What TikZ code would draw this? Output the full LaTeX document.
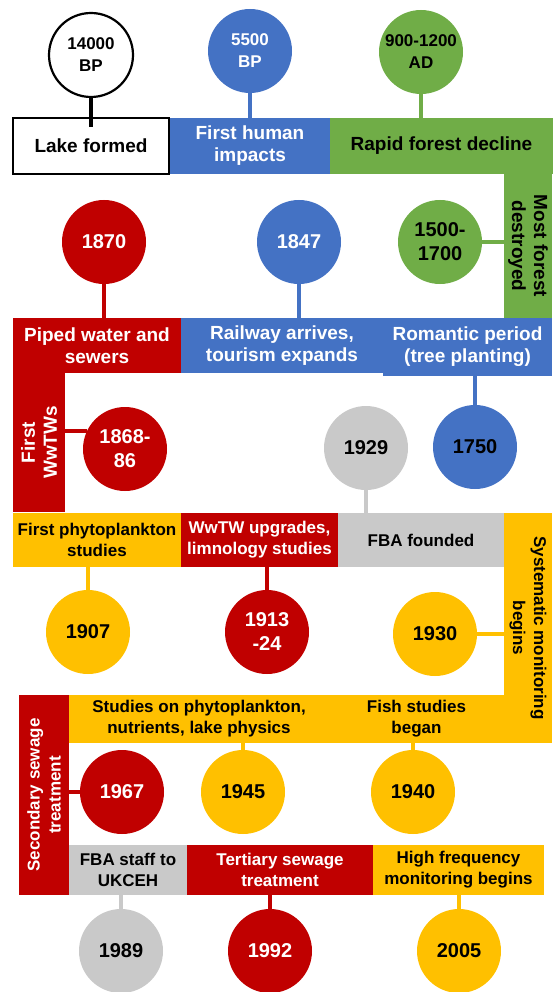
\documentclass[tikz,border=0pt]{standalone}
\usepackage{fontspec}
\setmainfont{Liberation Sans}
\usetikzlibrary{positioning}

\definecolor{cblue}{HTML}{4472C4}
\definecolor{cgreen}{HTML}{70AD47}
\definecolor{cred}{HTML}{C00000}
\definecolor{cyellow}{HTML}{FFC000}
\definecolor{cgray}{HTML}{C9C9C9}

\begin{document}
\begin{tikzpicture}[x=1pt, y=-1pt,
        event/.style={rectangle, inner sep=0pt, outer sep=0pt, align=center, font=\bfseries\fontsize{19}{22}\selectfont},
        narrow/.style={font=\bfseries\fontsize{17}{21}\selectfont},
        year/.style={circle, minimum size=84pt, inner sep=0pt, outer sep=0pt, align=center, font=\bfseries\fontsize{20}{24}\selectfont},
        early/.style={font=\bfseries\fontsize{17}{22}\selectfont},
        stem/.style={line width=4pt}]
        \useasboundingbox (0,0) rectangle (552,992);

        \node[event, draw, line width=2pt, fill=white, minimum width=156pt, minimum height=56pt](lake) at (91,146){Lake formed};
        \node[event, fill=cblue, text=white, minimum width=160pt, minimum height=56pt, right=1pt of lake](human){First human\\impacts};
        \node[event, fill=cgreen, minimum width=223pt, minimum height=56pt, right=0pt of human](decline){Rapid forest decline};
        \node[event, fill=cgreen, rotate=-90, minimum width=144pt, minimum height=48pt](destroyed) at (528,246){Most forest\\destroyed};

        \node[event, fill=cred, text=white, minimum width=168pt, minimum height=55pt](piped) at (97,345.5){Piped water and\\sewers};
        \node[event, fill=cblue, text=white, minimum width=202pt, minimum height=55pt, right=0pt of piped](railway){Railway arrives,\\tourism expands};
        \node[event, fill=cblue, text=white, minimum width=169pt, minimum height=58pt, right=0pt of railway, yshift=-1.5pt](romantic){Romantic period\\(tree planting)};
        \node[event, fill=cred, text=white, rotate=90, minimum width=139pt, minimum height=52pt](wwtws) at (39,442.5){First\\WwTWs};

        \node[event, narrow, fill=cyellow, minimum width=168pt, minimum height=54pt](phyto) at (97,540){First phytoplankton\\studies};
        \node[event, narrow, fill=cred, text=white, minimum width=157pt, minimum height=54pt, right=0pt of phyto](upgrades){WwTW upgrades,\\limnology studies};
        \node[event, narrow, fill=cgray, minimum width=166pt, minimum height=54pt, right=0pt of upgrades](fba){FBA founded};
        \node[event, narrow, fill=cyellow, rotate=-90, minimum width=230pt, minimum height=48pt](systematic) at (528,628){Systematic monitoring\\begins};

        \node[event, narrow, fill=cyellow, minimum width=260pt, minimum height=48pt](studiesa) at (199,719){Studies on phytoplankton,\\nutrients, lake physics};
        \node[event, narrow, fill=cyellow, minimum width=175pt, minimum height=48pt, right=0pt of studiesa](studiesb){Fish studies\\began};
        \node[event, narrow, fill=cred, text=white, rotate=90, minimum width=200pt, minimum height=50pt](secondary) at (44,795){Secondary sewage\\treatment};

        \node[event, narrow, fill=cgray, minimum width=118pt, minimum height=50pt](fbastaff) at (128,870){FBA staff to\\UKCEH};
        \node[event, narrow, fill=cred, text=white, minimum width=186pt, minimum height=50pt, right=0pt of fbastaff](tertiary){Tertiary sewage\\treatment};
        \node[event, narrow, fill=cyellow, minimum width=171pt, minimum height=50pt, right=0pt of tertiary](highfreq){High frequency\\monitoring begins};

        \node[year, early, draw, line width=2.2pt, fill=white](c14000) at (91,55){14000\\BP};
        \node[year, early, fill=cblue, text=white](c5500) at (250,51){5500\\BP};
        \node[year, early, fill=cgreen](c900) at (421,52){900-1200\\AD};

        \node[year, fill=cred, text=white](c1870) at (104,242){1870};
        \node[year, fill=cblue, text=white](c1847) at (299,242){1847};
        \node[year, fill=cgreen](c1500) at (440,242){1500-\\1700};

        \node[year, fill=cred, text=white](c1868) at (125,449){1868-\\86};
        \node[year, fill=cgray](c1929) at (366,448){1929};
        \node[year, fill=cblue](c1750) at (475,447){1750};

        \node[year, fill=cyellow](c1907) at (88,632){1907};
        \node[year, fill=cred, text=white](c1913) at (267,632){1913\\-24};
        \node[year, fill=cyellow](c1930) at (435,634){1930};

        \node[year, fill=cred, text=white](c1967) at (122,792){1967};
        \node[year, fill=cyellow](c1945) at (243,792){1945};
        \node[year, fill=cyellow](c1940) at (413,792){1940};

        \node[year, fill=cgray](c1989) at (121,951){1989};
        \node[year, fill=cred, text=white](c1992) at (270,951){1992};
        \node[year, fill=cyellow](c2005) at (459,951){2005};

        \draw(c14000) edge[stem, black] ([yshift=-9pt]c14000 |- lake.north);
        \draw(c5500) edge[stem, cblue] (c5500 |- human.north);
        \draw(c900) edge[stem, cgreen] (c900 |- decline.north);
        \draw(c1500) edge[stem, cgreen] (c1500 -| destroyed.south);

        \draw(c1870) edge[stem, cred] (c1870 |- piped.north);
        \draw(c1847) edge[stem, cblue] (c1847 |- railway.north);
        \draw(c1750) edge[stem, cblue] (c1750 |- romantic.south);
        \draw(c1868.155) edge[stem, cred] (c1868.155 -| wwtws.south);
        \draw(c1929) edge[stem, cgray] (c1929 |- fba.north);

        \draw(c1907) edge[stem, cyellow] (c1907 |- phyto.south);
        \draw(c1913) edge[stem, cred] (c1913 |- upgrades.south);
        \draw(c1930) edge[stem, cyellow] (c1930 -| systematic.south);

        \draw(c1945) edge[stem, cyellow] (c1945 |- studiesa.south);
        \draw(c1940) edge[stem, cyellow] (c1940 |- studiesb.south);
        \draw(c1967) edge[stem, cred] (c1967 -| secondary.south);

        \draw(c1989) edge[stem, cgray] (c1989 |- fbastaff.south);
        \draw(c1992) edge[stem, cred] (c1992 |- tertiary.south);
        \draw(c2005) edge[stem, cyellow] (c2005 |- highfreq.south);
    \end{tikzpicture}
\end{document}
